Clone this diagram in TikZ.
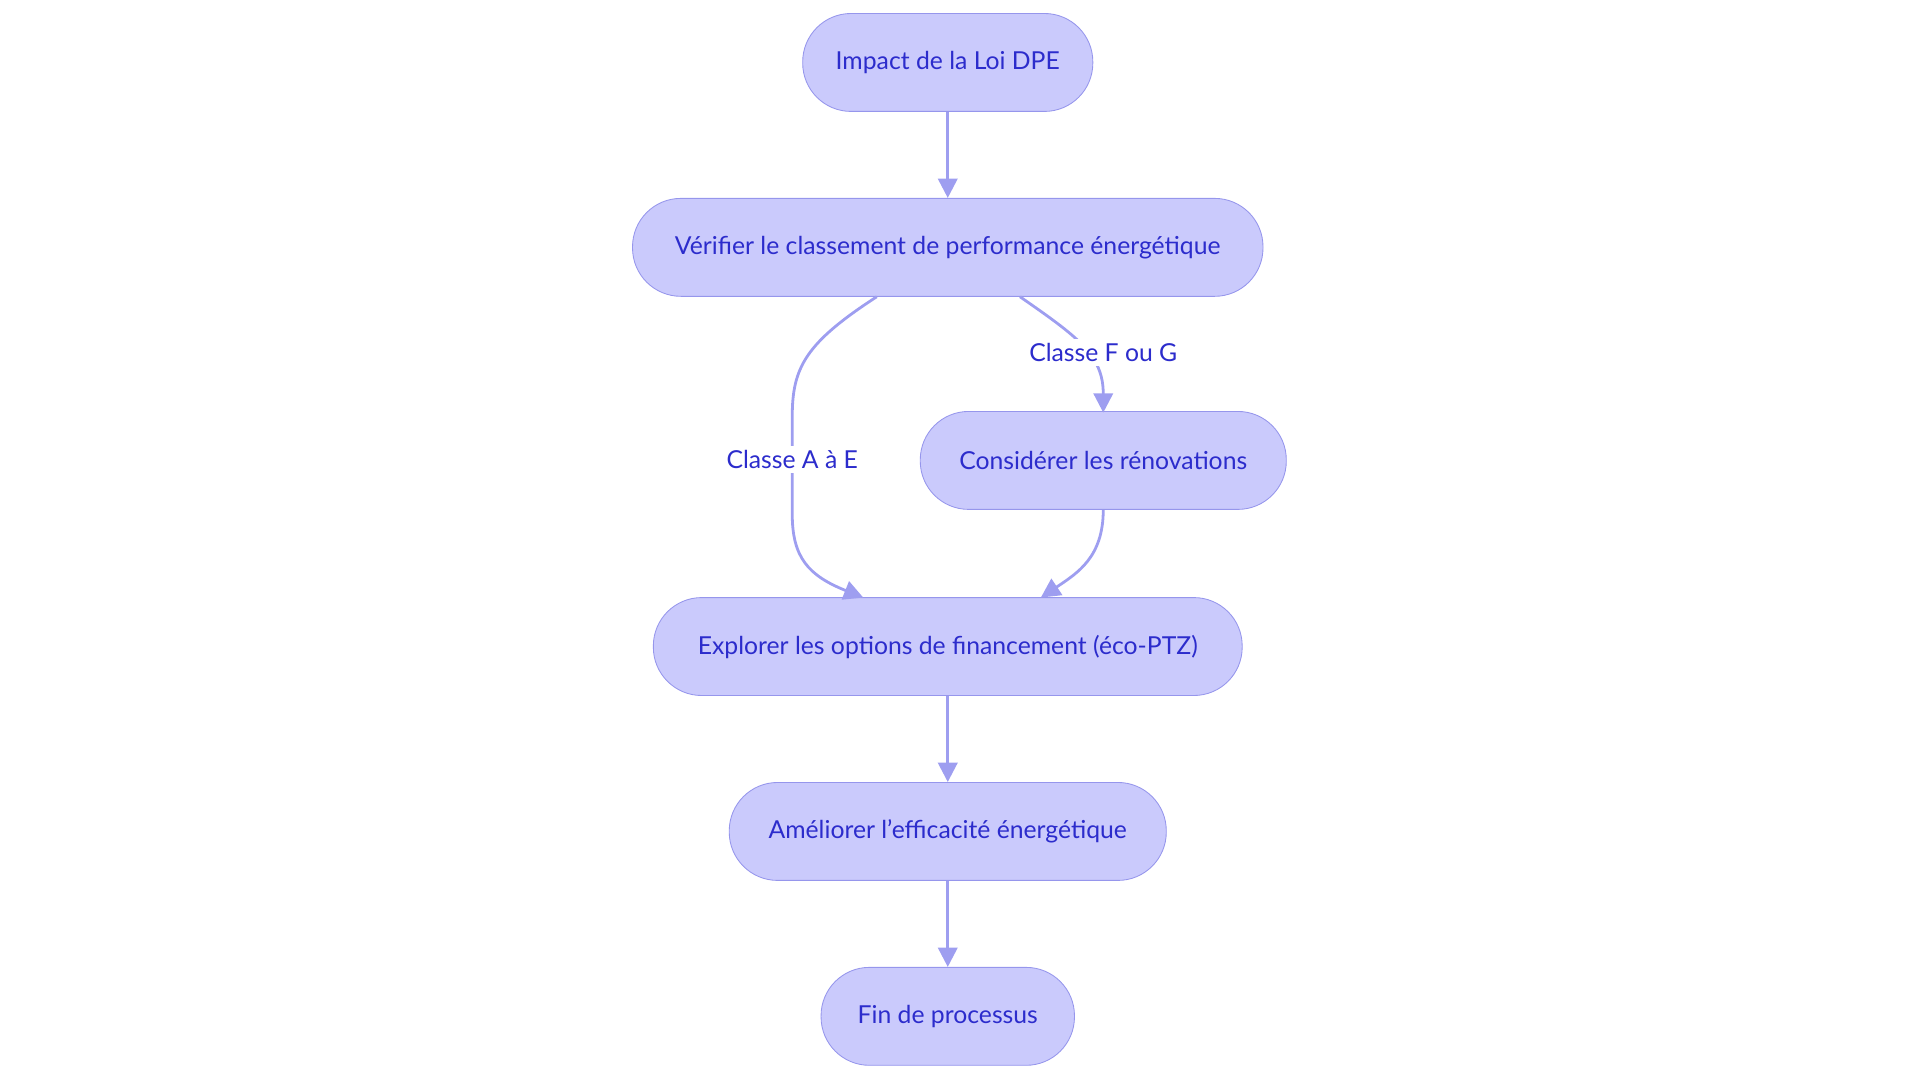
\documentclass[tikz,border=0pt]{standalone}
\usepackage{fontspec}
\setmainfont{Lato}
\usetikzlibrary{arrows.meta}
\definecolor{boxfill}{RGB}{202,202,252}
\definecolor{boxline}{RGB}{150,150,236}
\definecolor{inktxt}{RGB}{44,44,204}
\definecolor{linkcol}{RGB}{158,158,240}
\tikzset{
  etape/.style = {draw=boxline, fill=boxfill, text=inktxt, rounded corners=0.79cm,
                  minimum height=1.6cm, font=\fontsize{11.5}{14}\selectfont, inner sep=0pt},
  lien/.style = {draw=linkcol, line width=1.3pt, -{Triangle[length=9pt,width=9pt]}},
  etiq/.style = {fill=white, text=inktxt, font=\fontsize{11.5}{14}\selectfont, inner sep=2pt}
}
\begin{document}
\begin{tikzpicture}[x=0.02cm, y=-0.02cm]
\useasboundingbox (0,0) rectangle (1568,884.5);

\node[etape, minimum width=4.74cm] (impact) at (774,51) {Impact de la Loi DPE};
\node[etape, minimum width=10.3cm] (verif) at (774,202) {Vérifier le classement de performance énergétique};
\node[etape, minimum width=5.98cm] (renov) at (901,376) {Considérer les rénovations};
\node[etape, minimum width=9.62cm] (finance) at (774,528) {Explorer les options de financement (éco-PTZ)};
\node[etape, minimum width=7.14cm] (amelio) at (774,679) {Améliorer l\symbol{39}efficacité énergétique};
\node[etape, minimum width=4.14cm] (fin) at (774,830) {Fin de processus};

% liens
\draw[lien] (impact) -- (verif);
\draw[lien] (verif.south) ++(-58,0) .. controls (658,280) and (647,300) .. (647,340)
  -- (647,420) .. controls (647,455) and (660,470) .. (705,488);
\node[etiq] (lab1) at (647,375) {Classe A à E};
\draw[lien] (verif.south) ++(59,0) .. controls (880,275) and (901,290) .. (901,337);
\node[etiq] (lab2) at (901,288) {Classe F ou G};
\draw[lien] (renov.south) .. controls (901,455) and (880,468) .. (850,488);
\draw[lien] (finance) -- (amelio);
\draw[lien] (amelio) -- (fin);
\end{tikzpicture}
\end{document}
